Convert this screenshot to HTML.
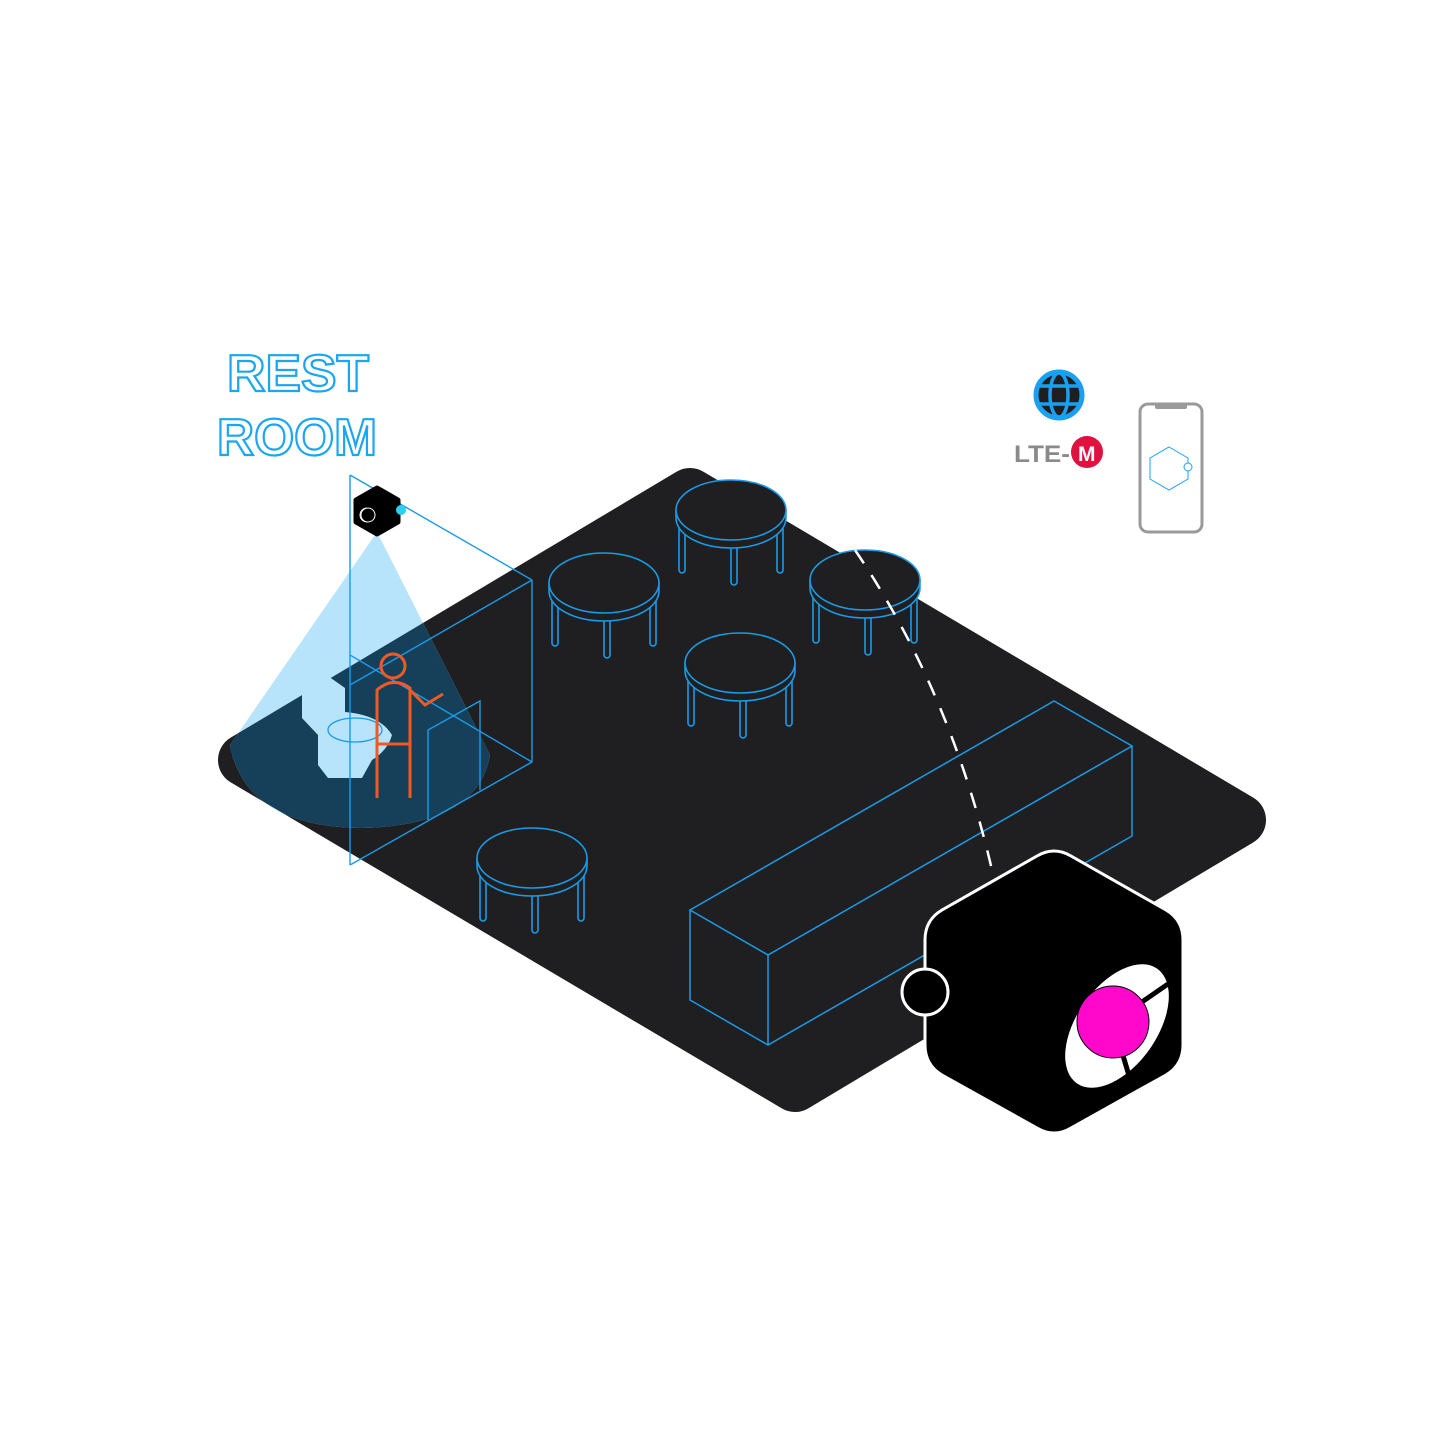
<!DOCTYPE html>
<html><head><meta charset="utf-8"><style>
html,body{margin:0;padding:0;background:#fff}
svg{display:block}
</style></head><body>
<svg width="1445" height="1445" viewBox="0 0 1445 1445" xmlns="http://www.w3.org/2000/svg">
<defs>
<g id="tbl" fill="#1f1f21" stroke="#1a9be8" stroke-width="1.6">
  <rect x="-52" y="5" width="6" height="58" rx="3"/>
  <rect x="46" y="5" width="6" height="58" rx="3"/>
  <rect x="0" y="30" width="6" height="45" rx="3"/>
  <path d="M-50,8 A52,26 0 0 0 50,8" fill="none"/>
  <path d="M-55,0 L-55,8 A55,30 0 0 0 55,8 L55,0"/>
  <ellipse cx="0" cy="0" rx="55" ry="30"/>
</g>
<mask id="plat">
  <rect width="1445" height="1445" fill="#000"/>
  <polygon points="690,494 1240,820 795,1086 244,760" fill="#fff" stroke="#fff" stroke-width="52" stroke-linejoin="round"/>
</mask>
</defs>
<!-- platform -->
<polygon points="690,494 1240,820 795,1086 244,760" fill="#1f1f21" stroke="#1f1f21" stroke-width="52" stroke-linejoin="round"/>
<!-- light cone -->
<path id="cone" d="M377,532 L230,745 Q245,826 360,828 Q478,826 490,755 Z" fill="#b8e4fb"/>
<path d="M377,532 L230,745 Q245,826 360,828 Q478,826 490,755 Z" fill="#16405a" mask="url(#plat)"/>
<!-- tables -->
<use href="#tbl" x="731" y="510"/>
<use href="#tbl" x="604" y="583"/>
<use href="#tbl" x="865" y="580"/>
<use href="#tbl" x="740" y="663"/>
<use href="#tbl" x="532" y="858"/>
<!-- counter -->
<g fill="none" stroke="#1a9be8" stroke-width="1.5">
<polygon points="690,910 1054,701 1132,746 768,955"/>
<polyline points="690,910 690,1000 768,1045 1132,836 1132,746"/>
<line x1="768" y1="955" x2="768" y2="1045"/>
</g>
<!-- toilet -->
<path d="M302,690 L328,676 L345,688 L345,712 Q380,715 392,735 Q388,750 372,760 L362,778 L328,778 L318,765 L318,735 L302,718 Z" fill="#b8e4fb"/>
<ellipse cx="355" cy="730" rx="27" ry="12" fill="none" stroke="#1a9be8" stroke-width="1.3"/>
<!-- restroom box -->
<g fill="none" stroke="#1a9be8" stroke-width="1.4">
<line x1="350" y1="475" x2="350" y2="865"/>
<line x1="532" y1="580" x2="532" y2="762"/>
<line x1="350" y1="475" x2="532" y2="580"/>
<line x1="350" y1="655" x2="532" y2="762"/>
<line x1="350" y1="685" x2="532" y2="580"/>
<line x1="350" y1="865" x2="532" y2="762"/>
<polyline points="428,820 428,730 480,701 480,790"/>
</g>
<!-- person -->
<g fill="none" stroke="#f05a22" stroke-width="3">
<circle cx="393" cy="666" r="12"/>
<path d="M377,798 L377,690 Q393,676 410,688 L410,798"/>
<line x1="377" y1="744" x2="410" y2="744"/>
<path d="M410,690 L425,705 L443,694"/>
</g>
<!-- small sensor -->
<polygon points="377,488 398,500 398,522 377,534 356,522 356,500" fill="#000" stroke="#000" stroke-width="5" stroke-linejoin="round"/>
<circle cx="368" cy="515" r="7" fill="none" stroke="#fff" stroke-width="1"/>
<path d="M367,508 A7,7 0 0 0 367,522" fill="none" stroke="#fff" stroke-width="1"/>
<circle cx="401" cy="510" r="5" fill="#2ad0f0"/>
<!-- REST ROOM text -->
<g font-family="'Liberation Sans',sans-serif" font-weight="bold" font-size="52" fill="#fff" stroke="#1aa6f0" stroke-width="2.2">
<text x="227" y="391" textLength="142" lengthAdjust="spacingAndGlyphs">REST</text>
<text x="217" y="455" textLength="160" lengthAdjust="spacingAndGlyphs">ROOM</text>
</g>
<!-- dashed line -->
<path d="M855,550 Q950,690 992,870" fill="none" stroke="#fff" stroke-width="2.5" stroke-dasharray="16,14"/>
<!-- globe -->
<circle cx="1059" cy="395" r="23" fill="#1f1f21" stroke="#1aa0f0" stroke-width="5"/>
<g fill="none" stroke="#1aa0f0" stroke-width="3.5">
<ellipse cx="1059" cy="395" rx="9" ry="22"/>
<line x1="1036" y1="386" x2="1082" y2="386"/>
<line x1="1036" y1="404" x2="1082" y2="404"/>
</g>
<!-- LTE-M -->
<text x="1014" y="462" font-family="'Liberation Sans',sans-serif" font-weight="bold" font-size="24" fill="#8a8a8a" textLength="56" lengthAdjust="spacingAndGlyphs">LTE-</text>
<circle cx="1087" cy="452" r="16" fill="#e0103f"/>
<text x="1078" y="461" font-family="'Liberation Sans',sans-serif" font-weight="bold" font-size="21" fill="#fff">M</text>
<!-- phone -->
<rect x="1140" y="404" width="62" height="128" rx="8" fill="#fff" stroke="#9a9a9a" stroke-width="3"/>
<rect x="1155" y="403" width="32" height="6" rx="2" fill="#9a9a9a"/>
<polygon points="1169,447 1188,458 1188,479 1169,490 1150,479 1150,458" fill="none" stroke="#1aa0f0" stroke-width="1"/>
<circle cx="1188" cy="467" r="4" fill="#fff" stroke="#1aa0f0" stroke-width="1"/>
<!-- big hex -->
<path d="M1071,856 L1166,910 Q1183,920 1183,940 L1183,1045 Q1183,1065 1166,1075 L1071,1128 Q1054,1138 1037,1128 L942,1075 Q925,1065 925,1045 L925,940 Q925,920 942,910 L1037,856 Q1054,846 1071,856 Z" fill="#000" stroke="#fff" stroke-width="3"/>
<ellipse cx="1117" cy="1026" rx="40" ry="70" transform="rotate(35 1117 1026)" fill="#fff"/>
<line x1="1113" y1="1022" x2="1168" y2="984" stroke="#000" stroke-width="5"/>
<line x1="1113" y1="1022" x2="1116" y2="1088" stroke="#000" stroke-width="5" transform="rotate(-14 1113 1022)"/>
<circle cx="1113" cy="1022" r="36" fill="#ff08cc" stroke="#000" stroke-width="1"/>
<circle cx="925" cy="992" r="23" fill="#000" stroke="#fff" stroke-width="3"/>
</svg>
</body></html>
